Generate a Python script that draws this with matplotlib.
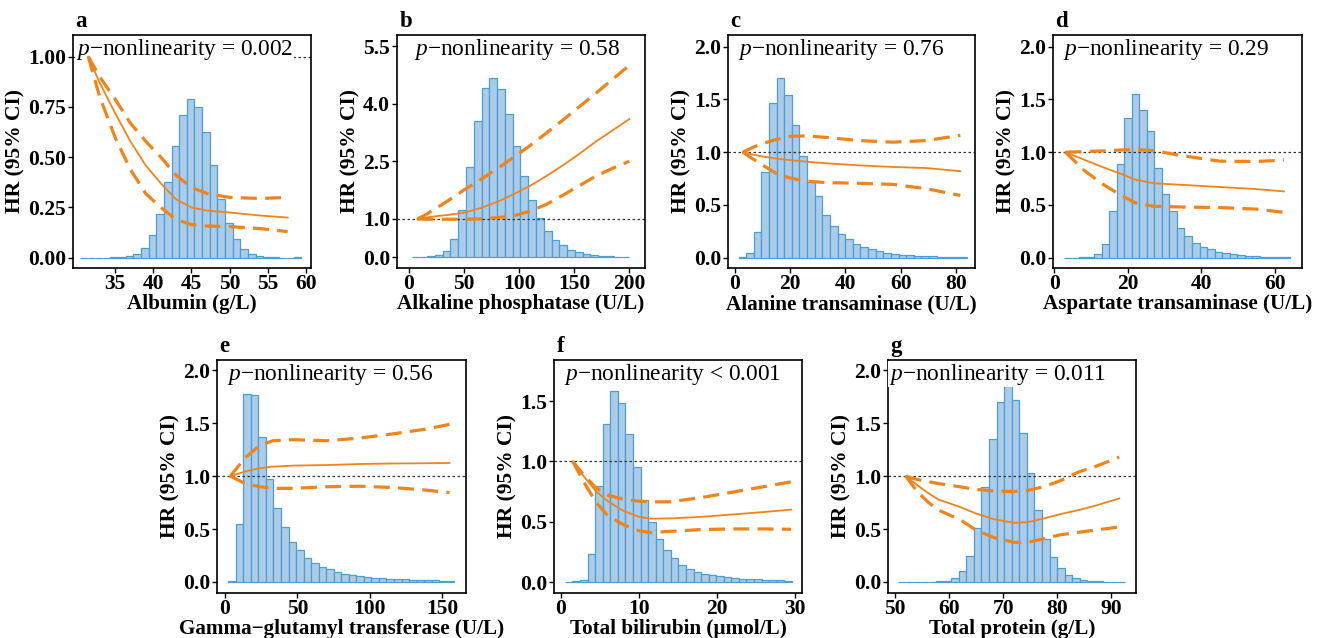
import matplotlib
matplotlib.use("Agg")
import matplotlib.pyplot as plt

plt.rcParams['font.family'] = ['Liberation Serif', 'DejaVu Serif']
plt.rcParams['mathtext.fontset'] = 'custom'
plt.rcParams['mathtext.rm'] = 'Liberation Serif'
plt.rcParams['mathtext.it'] = 'Liberation Serif:italic'

# ---- a: Albumin ----
a_bin_start, a_bin_width = 30.4, 1.0
a_hist = [0.001, 0.001, 0.001, 0.001, 0.002, 0.003, 0.007, 0.02, 0.05, 0.113,
          0.22, 0.376, 0.554, 0.71, 0.79, 0.748, 0.627, 0.463, 0.294, 0.171,
          0.091, 0.045, 0.017, 0.008, 0.004, 0.002, 0.001, 0.001, 0.002]
a_x = [31.5, 33, 35, 37, 39, 41, 43, 45, 47, 50, 54, 57.6]
a_hr = [1.0, 0.87, 0.72, 0.58, 0.46, 0.37, 0.29, 0.25, 0.235, 0.225, 0.21, 0.2]
a_up = [1.0, 0.9, 0.79, 0.67, 0.58, 0.50, 0.41, 0.35, 0.32, 0.30, 0.295, 0.30]
a_lo = [1.0, 0.8, 0.6, 0.44, 0.32, 0.25, 0.19, 0.165, 0.158, 0.155, 0.145, 0.13]

# ---- b: Alkaline phosphatase ----
b_bin_start, b_bin_width = 2.6, 7.05
b_hist = [0.005, 0.01, 0.03, 0.06, 0.15, 0.47, 1.24, 2.35, 3.55, 4.42,
          4.68, 4.38, 3.72, 2.91, 2.11, 1.50, 1.03, 0.68, 0.44, 0.32,
          0.20, 0.13, 0.09, 0.06, 0.04, 0.025, 0.015, 0.01]
b_x = [8, 15, 25, 35, 50, 65, 80, 95, 110, 125, 140, 155, 170, 185, 200]
b_hr = [1.0, 1.03, 1.07, 1.1, 1.16, 1.28, 1.44, 1.64, 1.86, 2.12, 2.4, 2.7, 3.02, 3.31, 3.6]
b_up = [1.0, 1.1, 1.28, 1.46, 1.75, 2.02, 2.3, 2.6, 2.91, 3.24, 3.58, 3.93, 4.28, 4.64, 5.0]
b_lo = [1.0, 0.99, 0.99, 0.99, 0.99, 1.0, 1.03, 1.08, 1.2, 1.38, 1.62, 1.87, 2.12, 2.32, 2.5]

# ---- c: Alanine transaminase ----
c_bin_start, c_bin_width = 1.45, 2.75
c_hist = [0.005, 0.045, 0.245, 0.81, 1.47, 1.70, 1.54, 1.26, 0.96, 0.72,
          0.58, 0.405, 0.30, 0.22, 0.175, 0.13, 0.10, 0.08, 0.06, 0.047,
          0.037, 0.029, 0.023, 0.018, 0.015, 0.012, 0.01, 0.008, 0.006, 0.005]
c_x = [3.0, 7, 10, 15, 20, 26, 33, 45, 57, 69, 81.5]
c_hr = [1.0, 0.975, 0.96, 0.94, 0.925, 0.91, 0.895, 0.875, 0.86, 0.85, 0.82]
c_up = [1.0, 1.05, 1.08, 1.12, 1.15, 1.155, 1.14, 1.11, 1.095, 1.11, 1.16]
c_lo = [1.0, 0.93, 0.88, 0.8, 0.755, 0.725, 0.712, 0.705, 0.695, 0.655, 0.59]

# ---- d: Aspartate transaminase ----
d_bin_start, d_bin_width = 2.6, 2.05
d_hist = [0.0, 0.0, 0.002, 0.01, 0.03, 0.126, 0.447, 0.887, 1.32, 1.556,
          1.40, 1.20, 0.85, 0.604, 0.44, 0.283, 0.21, 0.14, 0.10, 0.08,
          0.055, 0.04, 0.03, 0.025, 0.018, 0.013, 0.01, 0.008, 0.006, 0.004]
d_x = [3.0, 8, 13, 17.7, 22, 27, 35, 45, 55, 62.5]
d_hr = [1.0, 0.93, 0.86, 0.80, 0.74, 0.705, 0.69, 0.67, 0.65, 0.628]
d_up = [1.0, 1.005, 1.012, 1.02, 1.025, 1.015, 0.965, 0.915, 0.912, 0.925]
d_lo = [1.0, 0.83, 0.7, 0.6, 0.52, 0.487, 0.48, 0.475, 0.46, 0.43]

# ---- e: Gamma-glutamyl transferase ----
e_bin_start, e_bin_width = 2.3, 5.2
e_hist = [0.01, 0.545, 1.775, 1.765, 1.37, 0.97, 0.70, 0.52, 0.38, 0.30,
          0.225, 0.175, 0.14, 0.12, 0.09, 0.08, 0.065, 0.055, 0.048, 0.042,
          0.036, 0.032, 0.028, 0.025, 0.022, 0.02, 0.018, 0.016, 0.012, 0.008]
e_x = [3.7, 14, 24, 33, 47, 70, 93, 116, 139, 155]
e_hr = [1.0, 1.045, 1.075, 1.09, 1.1, 1.105, 1.115, 1.12, 1.122, 1.125]
e_up = [1.0, 1.175, 1.29, 1.335, 1.345, 1.335, 1.36, 1.40, 1.445, 1.49]
e_lo = [1.0, 0.93, 0.90, 0.885, 0.885, 0.9, 0.905, 0.893, 0.868, 0.845]

# ---- f: Total bilirubin ----
f_bin_start, f_bin_width = 0.5, 0.97
f_hist = [0.003, 0.005, 0.017, 0.235, 0.795, 1.31, 1.58, 1.48, 1.23, 0.95,
          0.68, 0.50, 0.36, 0.265, 0.195, 0.14, 0.11, 0.085, 0.07, 0.058,
          0.048, 0.04, 0.034, 0.028, 0.025, 0.022, 0.02, 0.017, 0.015, 0.012]
f_x = [1.5, 3, 4.5, 6, 8, 10, 11.5, 14, 18, 22, 26, 29.5]
f_hr = [1.0, 0.87, 0.75, 0.67, 0.59, 0.54, 0.525, 0.527, 0.54, 0.56, 0.58, 0.60]
f_up = [1.0, 0.88, 0.78, 0.72, 0.685, 0.67, 0.664, 0.665, 0.70, 0.745, 0.79, 0.83]
f_lo = [1.0, 0.82, 0.66, 0.55, 0.475, 0.425, 0.41, 0.42, 0.435, 0.44, 0.44, 0.437]

# ---- g: Total protein ----
g_bin_start, g_bin_width = 50.6, 1.4
g_hist = [0.001, 0.001, 0.002, 0.003, 0.004, 0.006, 0.012, 0.035, 0.10, 0.25,
          0.51, 0.90, 1.35, 1.70, 1.85, 1.72, 1.41, 1.03, 0.68, 0.41,
          0.24, 0.13, 0.066, 0.038, 0.02, 0.01, 0.005, 0.003, 0.002, 0.001]
g_x = [52, 54, 56, 58, 62, 65, 68.3, 72, 74.5, 77.5, 80.5, 84, 87, 91.5]
g_hr = [1.0, 0.92, 0.845, 0.78, 0.71, 0.647, 0.593, 0.56, 0.565, 0.6, 0.64, 0.68, 0.72, 0.79]
g_up = [1.0, 0.97, 0.95, 0.93, 0.9, 0.875, 0.86, 0.855, 0.865, 0.9, 0.955, 1.04, 1.09, 1.18]
g_lo = [1.0, 0.86, 0.76, 0.68, 0.59, 0.49, 0.42, 0.375, 0.372, 0.41, 0.445, 0.47, 0.49, 0.52]

panels = [
    ("a", "Albumin (g/L)", "= 0.002", a_bin_start, a_bin_width, a_hist, a_x, a_hr, a_up, a_lo),
    ("b", "Alkaline phosphatase (U/L)", "= 0.58", b_bin_start, b_bin_width, b_hist, b_x, b_hr, b_up, b_lo),
    ("c", "Alanine transaminase (U/L)", "= 0.76", c_bin_start, c_bin_width, c_hist, c_x, c_hr, c_up, c_lo),
    ("d", "Aspartate transaminase (U/L)", "= 0.29", d_bin_start, d_bin_width, d_hist, d_x, d_hr, d_up, d_lo),
    ("e", "Gamma\u2212glutamyl transferase (U/L)", "= 0.56", e_bin_start, e_bin_width, e_hist, e_x, e_hr, e_up, e_lo),
    ("f", "Total bilirubin (\u00b5mol/L)", "< 0.001", f_bin_start, f_bin_width, f_hist, f_x, f_hr, f_up, f_lo),
    ("g", "Total protein (g/L)", "= 0.011", g_bin_start, g_bin_width, g_hist, g_x, g_hr, g_up, g_lo),
]

# layout in pixels (left, top, right, bottom) for a 1318x638 canvas
W, H = 1318, 638
boxes = [(73, 35, 311, 268), (397, 35, 645, 268), (728, 35, 975, 268), (1053, 35, 1302, 268),
         (217, 360, 466, 593), (554, 360, 802, 593), (888, 360, 1136, 593)]
xlims = [(29.5, 60.65), (-10.6, 214.2), (-2.35, 86.8), (-0.4, 67.4),
         (-5.5, 166.4), (-0.9, 30.9), (48.7, 94.6)]
ylims = [(-0.051, 1.108), (-0.28, 5.79), (-0.098, 2.111), (-0.098, 2.111),
         (-0.104, 2.098), (-0.091, 1.84), (-0.104, 2.098)]
xticks = [[35, 40, 45, 50, 55, 60], [0, 50, 100, 150, 200], [0, 20, 40, 60, 80], [0, 20, 40, 60],
          [0, 50, 100, 150], [0, 10, 20, 30], [50, 60, 70, 80, 90]]
yticks = [[0, 0.25, 0.5, 0.75, 1.0], [0, 1.0, 2.5, 4.0, 5.5], [0, 0.5, 1.0, 1.5, 2.0],
          [0, 0.5, 1.0, 1.5, 2.0], [0, 0.5, 1.0, 1.5, 2.0], [0, 0.5, 1.0, 1.5], [0, 0.5, 1.0, 1.5, 2.0]]
yfmt = ["{:.2f}", "{:.1f}", "{:.1f}", "{:.1f}", "{:.1f}", "{:.1f}", "{:.1f}"]
text_x = [0.013, 0.484, 0.457, 0.454, 0.454, 0.48, 0.44]

orange = "#F0841A"
fill = "#abcbe9"
edge = "#4a9fd4"

fig = plt.figure(figsize=(13.18, 6.38), dpi=100)

for i, (lab, xlabel, ptxt, bstart, bwidth, hist, cx, hr, up, lo) in enumerate(panels):
    l, t, r, b = boxes[i]
    ax = fig.add_axes([l / W, 1 - b / H, (r - l) / W, (b - t) / H])

    lefts = [bstart + k * bwidth for k in range(len(hist))]
    ax.bar(lefts, hist, width=bwidth, align='edge', color=fill,
           edgecolor=edge, linewidth=0.9, zorder=1)
    ax.axhline(1.0, color="#333333", lw=0.9, ls=(0, (2, 2)), zorder=2)
    ax.plot(cx, hr, color=orange, lw=1.3, zorder=4)
    ax.plot(cx, up, color=orange, lw=2.3, dashes=(5, 2.6), zorder=4)
    ax.plot(cx, lo, color=orange, lw=2.3, dashes=(5, 2.6), zorder=4)

    ax.set_xlim(xlims[i])
    ax.set_ylim(ylims[i])
    ax.set_xticks(xticks[i])
    ax.set_yticks(yticks[i])
    ax.set_yticklabels([yfmt[i].format(v) for v in yticks[i]])
    ax.tick_params(labelsize=15.5, length=3.5, width=1, pad=1.5)
    ax.tick_params(axis='x', pad=1)
    for tl in ax.get_xticklabels() + ax.get_yticklabels():
        tl.set_fontweight('bold')
    for s in ax.spines.values():
        s.set_linewidth(1.2)

    ax.set_xlabel(xlabel, fontsize=15.2, fontweight='bold', labelpad=0)
    ax.set_ylabel("HR (95% CI)", fontsize=15.5, fontweight='bold', labelpad=2)

    ha = 'left' if i == 0 else 'center'
    ax.text(text_x[i], 0.916, "$p$\u2212nonlinearity " + ptxt, transform=ax.transAxes,
            ha=ha, va='baseline', fontsize=16.8, zorder=3,
            bbox=dict(facecolor='white', edgecolor='none', pad=0.5))
    ax.text(0.01, 1.035, lab, transform=ax.transAxes, ha='left', va='baseline',
            fontsize=16.5, fontweight='bold')

fig.savefig("out.png", dpi=100)
